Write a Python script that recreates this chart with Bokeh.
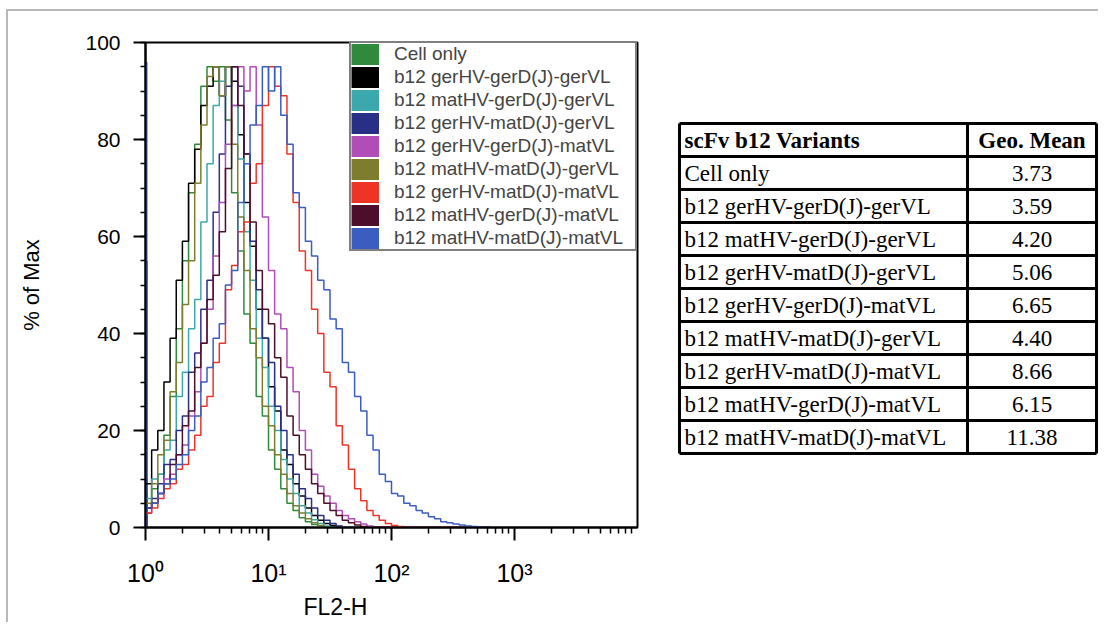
import numpy as np
from bokeh.plotting import figure
from bokeh.models import (Range1d, FixedTicker, SingleIntervalTicker, Legend, LegendItem,
                          Title)
from bokeh.layouts import row
from bokeh.core.properties import value
from bokeh.embed import file_html
from bokeh.resources import INLINE

# ---------------- data ----------------
variants = [
    "Cell only",
    "b12 gerHV-gerD(J)-gerVL",
    "b12 matHV-gerD(J)-gerVL",
    "b12 gerHV-matD(J)-gerVL",
    "b12 gerHV-gerD(J)-matVL",
    "b12 matHV-matD(J)-gerVL",
    "b12 gerHV-matD(J)-matVL",
    "b12 matHV-gerD(J)-matVL",
    "b12 matHV-matD(J)-matVL",
]
geo_mean = [3.73, 3.59, 4.20, 5.06, 6.65, 4.40, 8.66, 6.15, 11.38]
colors = ["#2f8a3c", "#000000", "#3aa8ac", "#2a2f86", "#b04db6",
          "#7e7d2e", "#ee3426", "#4c0e2b", "#3b5cc0"]

# histogram bins: log10(FL2-H) bin width 0.05 decade, starting at 10^0
n_bins = 56
bin_log_width = 0.05

# % of Max per bin
cell_only = [4, 8, 11, 19, 27, 41, 55, 69, 79, 91, 95, 92, 95, 84, 69, 57, 44, 38, 27, 23,
             16, 12, 8, 5, 3.5, 2, 1.2, 0.6, 0.3]
ger_ger_ger = [9, 16, 20, 30, 39, 51, 59, 71, 78, 87, 91, 95, 89, 95, 92, 81, 67, 58, 45, 39,
               29, 24, 16, 13, 9, 6.5, 4, 2.5, 1.5, 0.8, 0.4, 0.2]
mat_ger_ger = [6, 10, 11, 16, 18, 27, 32, 41, 47, 63, 75, 87, 92, 95, 87, 76, 61, 51, 39, 33,
               25, 20, 14, 10, 7, 4.5, 3, 1.6, 0.8, 0.3]
ger_mat_ger = [4, 6, 9, 13, 14, 20, 23, 32, 36, 45, 51, 65, 77, 91, 95, 91, 77, 59, 49, 39,
               34, 25, 20, 15, 11, 8, 6, 4, 2.5, 1.5, 0.8, 0.3]
ger_ger_mat = [3, 5, 7, 10, 11, 15, 17, 23, 28, 38, 45, 56, 67, 79, 87, 95, 90, 95, 83, 64,
               53, 44, 41, 33, 28, 20, 16, 11, 8.5, 6.5, 5, 3.5, 2.5, 1.8, 1.2, 0.7, 0.3]
mat_mat_ger = [5, 9, 15, 18, 28, 34, 46, 55, 71, 83, 93, 95, 89, 95, 79, 64, 53, 41, 35, 25,
               21, 15, 11, 7, 4.5, 3, 1.8, 1, 0.4]
ger_mat_mat = [3, 4, 6, 8, 9, 12, 13, 16, 19, 25, 27, 34, 38, 49, 54, 61, 63, 71, 75, 87,
               95, 91, 89, 77, 67, 57, 53, 45, 40, 32, 29, 21, 17, 12, 8, 5.5, 3.5, 2.5, 1.5,
               0.8, 0.4, 0.2]
mat_ger_mat = [4, 5, 7, 9, 13, 15, 21, 24, 33, 38, 47, 52, 61, 74, 95, 87, 77, 63, 53, 45,
               42, 35, 31, 23, 19, 15, 12, 9, 7, 5, 3.5, 2.5, 1.5, 1, 0.5, 0.2]
mat_mat_mat = [4, 5, 7, 9, 10, 13, 15, 20, 23, 30, 33, 39, 42, 50, 53, 67, 75, 83, 87, 95,
               90, 95, 85, 79, 69, 66, 59, 56, 51, 49, 43, 41, 34, 32, 27, 24, 19, 16, 11, 9.5,
               7, 6.5, 5, 4.5, 3.5, 3, 2.2, 1.8, 1.2, 1, 0.7, 0.5, 0.3, 0.2, 0.1]
series = [cell_only, ger_ger_ger, mat_ger_ger, ger_mat_ger, ger_ger_mat,
          mat_mat_ger, ger_mat_mat, mat_ger_mat, mat_mat_mat]
# events piled up in the first channel (% of Max)
first_channel = [10, 55, 50, 8, 6, 9, 6, 7, 96]

y_ticks_interval = 20
x_major_ticks = [1, 10, 100, 1000]
x_tick_labels = {1: "10\u2070", 10: "10\u00b9", 100: "10\u00b2", 1000: "10\u00b3"}

FONT = "Liberation Sans"
SERIF = "Liberation Serif"

# page geometry (content origin at x=8, y=11)
OX, OY = 8, 11
P1W, P1H = 660, 611
MB_L, MB_R, MB_T, MB_B = 137, 31, 31, 95

# ---------------- histogram figure ----------------
p1 = figure(width=P1W, height=P1H, x_axis_type="log",
            x_range=Range1d(1, 1e4), y_range=Range1d(0, 100),
            output_backend="svg", toolbar_location=None,
            min_border_left=MB_L, min_border_right=MB_R,
            min_border_top=MB_T, min_border_bottom=MB_B)
p1.grid.visible = False
p1.outline_line_color = "black"
p1.outline_line_width = 2
p1.background_fill_color = "white"

minor = [k * 10 ** d for d in range(4) for k in range(2, 10)]
p1.xaxis.ticker = FixedTicker(ticks=x_major_ticks, minor_ticks=minor)
p1.xaxis.major_label_overrides = x_tick_labels
p1.yaxis.ticker = SingleIntervalTicker(interval=y_ticks_interval, num_minor_ticks=4)

for ax in (p1.xaxis, p1.yaxis):
    ax.axis_line_width = 2
    ax.axis_line_color = "black"
    ax.major_tick_line_width = 2
    ax.minor_tick_line_width = 1.5
    ax.major_tick_in = 0
    ax.minor_tick_in = 0
    ax.major_label_text_font = FONT
    ax.major_label_text_color = "black"
    ax.axis_label_text_font = FONT
    ax.axis_label_text_font_style = "normal"
    ax.axis_label_text_color = "black"

p1.yaxis.major_tick_out = 12
p1.yaxis.minor_tick_out = 5
p1.yaxis.major_label_standoff = 13
p1.yaxis.major_label_text_font_size = "21px"
p1.yaxis.axis_label = "% of Max"
p1.yaxis.axis_label_text_font_size = "22px"
p1.yaxis.axis_label_standoff = 38

p1.xaxis.major_tick_out = 13
p1.xaxis.minor_tick_out = 6
p1.xaxis.major_label_standoff = 18
p1.xaxis.major_label_text_font_size = "25px"

edges = 10 ** (np.arange(n_bins + 1) * bin_log_width)

p1.segment(x0=[1] * len(first_channel), y0=[0] * len(first_channel),
           x1=[1] * len(first_channel), y1=first_channel,
           line_color=colors, line_width=4)

for vals, c in zip(series, colors):
    v = list(vals) + [0.0] * (n_bins - len(vals))
    p1.step(x=list(edges), y=v + [v[-1]], mode="after", line_color=c, line_width=1.5)

items = []
for lbl, c in zip(variants, colors):
    # off-range dummy line: only its legend swatch is visible
    d = p1.line(x=[1e6, 2e6], y=[-50, -50], line_color=c, line_width=21)
    items.append(LegendItem(label=lbl, renderers=[d]))

legend = Legend(items=items, location=(204, 276), padding=0, margin=0, spacing=1,
                glyph_width=28, glyph_height=22, label_height=22, label_width=241,
                label_standoff=15, label_text_font=FONT, label_text_font_size="19px",
                border_line_color="black", border_line_width=2,
                background_fill_color="white", background_fill_alpha=1)
p1.add_layout(legend)

p1.add_layout(Title(text="FL2-H", align="left", offset=158, text_font=FONT,
                    text_font_size="23px", text_font_style="normal",
                    text_color="black", standoff=4), "below")

# ---------------- table figure (page-pixel data coordinates) ----------------
P2W = 430
x_left_page = OX + P1W
frame_top = OY + MB_T
frame_bottom = OY + P1H - MB_B
p2 = figure(width=P2W, height=P1H,
            x_range=Range1d(x_left_page, x_left_page + P2W),
            y_range=Range1d(frame_bottom, frame_top),
            x_axis_type=None, y_axis_type=None, output_backend="svg",
            toolbar_location=None, min_border_left=0, min_border_right=0,
            min_border_top=MB_T, min_border_bottom=MB_B)
p2.outline_line_color = None
p2.grid.visible = False

t_left, t_right, t_div = 679, 1096, 967
t_top, row_h = 123, 33
n_rows = len(variants) + 1
t_bottom = t_top + row_h * n_rows

ys = [t_top + row_h * k for k in range(n_rows + 1)]
p2.segment(x0=[t_left] * len(ys), x1=[t_right] * len(ys), y0=ys, y1=ys,
           line_color="black", line_width=3)
xs = [t_left, t_div, t_right]
p2.segment(x0=xs, x1=xs, y0=[t_top] * 3, y1=[t_bottom] * 3,
           line_color="black", line_width=3)

p2.text(x=[t_left + 5], y=[t_top + row_h / 2], text=["scFv b12 Variants"],
        text_font=value(SERIF), text_font_size="23px", text_font_style="bold",
        text_baseline="middle", text_color="black")
p2.text(x=[(t_div + t_right) / 2], y=[t_top + row_h / 2], text=["Geo. Mean"],
        text_font=value(SERIF), text_font_size="23px", text_font_style="bold",
        text_baseline="middle", text_align="center", text_color="black")

row_y = [t_top + row_h * (k + 1) + row_h / 2 for k in range(len(variants))]
p2.text(x=[t_left + 5] * len(variants), y=row_y, text=variants,
        text_font=value(SERIF), text_font_size="23px",
        text_baseline="middle", text_color="black")
p2.text(x=[(t_div + t_right) / 2] * len(variants), y=row_y,
        text=[f"{g:.2f}" for g in geo_mean],
        text_font=value(SERIF), text_font_size="23px",
        text_baseline="middle", text_align="center", text_color="black")

layout = row(p1, p2, styles={"border-top": "2px solid #b8b8b8",
                             "border-left": "2px solid #b8b8b8",
                             "margin-left": "6px", "margin-top": "9px"})

open("out.html", "w").write(file_html(layout, INLINE))
